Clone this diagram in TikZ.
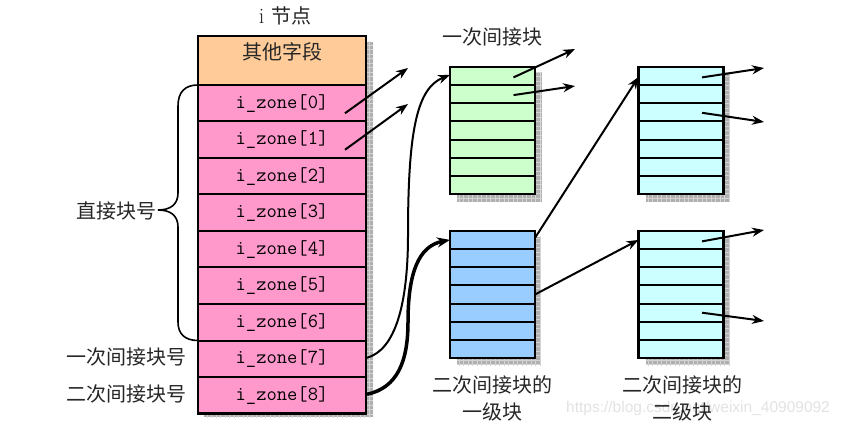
\documentclass[tikz,border=0pt]{standalone}
\usepackage{fontspec}
\newfontfamily\cjk{Noto Sans CJK SC}
\newfontfamily\wmfont{Liberation Sans}
\usetikzlibrary{arrows.meta,calc}
\definecolor{hdrfill}{HTML}{FFCC99}
\definecolor{zonefill}{HTML}{FF99CC}
\definecolor{greenfill}{HTML}{CCFFCC}
\definecolor{bluefill}{HTML}{99CCFF}
\definecolor{cyanfill}{HTML}{CCFFFF}
\definecolor{shadowgray}{HTML}{B0B0B0}
\definecolor{shadowgrid}{HTML}{D4D4D4}
\definecolor{wmgray}{HTML}{E2E2E2}
\tikzset{
  zonerow/.style={draw, line width=2pt, fill=zonefill, minimum width=168pt, minimum height=36.5pt, inner sep=0pt, outer sep=0pt, font=\ttfamily\fontsize{20}{23}\selectfont},
  hdrrow/.style={draw, line width=2pt, fill=hdrfill, minimum width=168pt, minimum height=49pt, inner sep=0pt, outer sep=0pt},
  blockrow/.style={draw, line width=2pt, minimum width=85pt, minimum height=18.2pt, inner sep=0pt, outer sep=0pt},
  cjktext/.style={font=\cjk\fontsize{20}{24}\selectfont, inner sep=0pt, text=black!85},
  ptr/.style={line width=2pt, -{Stealth[length=12pt,width=9pt]}},
  thickptr/.style={line width=3.5pt, -{Stealth[length=13pt,width=10pt]}},
  bracestyle/.style={line width=1.6pt}
}
\begin{document}
\begin{tikzpicture}[x=1pt,y=-1pt]
\useasboundingbox (0,0) rectangle (850,427);
% watermark
\node[anchor=west, text=wmgray, font=\wmfont\fontsize{15.5}{18}\selectfont, inner sep=0pt] (wm) at (566,408) {https://blog.csdn.net/weixin\_40909092};
% shadows
\foreach \ax/\ay/\bx/\by in {204/42/373/417, 457/73/542/202, 457/237/541/365, 646/73/730/202, 646/237/730/365}{
  \begin{scope}
    \clip (\ax,\ay) rectangle (\bx,\by);
    \fill[shadowgray] (\ax,\ay) rectangle (\bx,\by);
    \draw[shadowgrid, line width=0.6pt, step=4.5pt] (\ax-10,\ay-10) grid (\bx+10,\by+10);
  \end{scope}
}
% inode
\node[cjktext] (title) at (285,16) {\rmfamily\fontsize{22}{24}\selectfont i \cjk\fontsize{20}{24}\selectfont 节点};
\node[hdrrow] (hdr) at (282,60.5) {};
\node[cjktext] (hdrtext) at (282,52) {其他字段};
\foreach \k in {0,...,8}{
  \node[zonerow] (z\k) at (282,{103.25+36.5*\k}) {i\_zone[\k]};
}
\draw[line width=2.4pt] (hdr.north west) rectangle (z8.south east);
% blocks
\foreach \i in {1,...,7}{
  \node[blockrow, fill=greenfill] (g\i) at (492.5,{57.7+18.2*\i}) {};
  \node[blockrow, fill=bluefill] (b\i) at (492.5,{221.7+18.2*\i}) {};
  \node[blockrow, fill=cyanfill] (c\i) at (681,{57.7+18.2*\i}) {};
  \node[blockrow, fill=cyanfill] (d\i) at (681,{221.7+18.2*\i}) {};
}
\draw[line width=2.4pt] (g1.north west) rectangle (g7.south east);
\draw[line width=2.4pt] (b1.north west) rectangle (b7.south east);
\draw[line width=2.4pt] (c1.north west) rectangle (c7.south east);
\draw[line width=2.4pt] (d1.north west) rectangle (d7.south east);
% labels
\node[cjktext] (lg) at (492,37) {一次间接块};
\node[cjktext] (lb1) at (492,385) {二次间接块的};
\node[cjktext] (lb2) at (492,412) {一级块};
\node[cjktext] (ld1) at (682,385) {二次间接块的};
\node[cjktext] (ld2) at (682,412) {二级块};
\node[cjktext, anchor=east] (direct) at (157,211) {直接块号};
\node[cjktext, anchor=east] (ind1) at (187,357) {一次间接块号};
\node[cjktext, anchor=east] (ind2) at (187,394) {二次间接块号};
% brace
\coordinate (btip) at (158,210);
\draw[bracestyle] (z0.north west) .. controls (185,85) and (178,92) .. (178,106) -- (178,193)
  .. controls (178,204) and (171,210) .. (btip)
  .. controls (171,210) and (178,216) .. (178,227) -- (178,322)
  .. controls (178,334) and (185,340.5) .. (z6.south west);
% free ends
\coordinate (e0) at (408,68);
\coordinate (e1) at (408,104);
\coordinate (eg1) at (575,49);
\coordinate (eg2) at (575,86);
\coordinate (ec1) at (764,68);
\coordinate (ec3) at (764,122);
\coordinate (ed1) at (764,230);
\coordinate (ed5) at (764,321);
% direct pointers
\draw[ptr] ($(z0.center)+(63,10)$) -- (e0);
\draw[ptr] ($(z1.center)+(63,10)$) -- (e1);
\draw[ptr] ($(g1.center)+(21,1.5)$) -- (eg1);
\draw[ptr] ($(g2.center)+(21,1)$) -- (eg2);
\draw[ptr] ($(c1.center)+(21,1.5)$) -- (ec1);
\draw[ptr] ($(c3.center)+(21,0.5)$) -- (ec3);
\draw[ptr] ($(d1.center)+(21,1.5)$) -- (ed1);
\draw[ptr] ($(d5.center)+(21,0)$) -- (ed5);
% indirect
\draw[ptr] ($(z7.east)+(1,-1)$) .. controls (395,350) and (408,305) .. (408,235)
  .. controls (408,130) and (417,88) .. ($(g1.west)+(0,-1)$);
\draw[thickptr] ($(z8.east)+(1,-1)$) .. controls (397,388) and (408,362) .. (408,322)
  .. controls (408,272) and (419,246) .. ($(b1.west)+(0,0)$);
\draw[ptr] ($(b1.east)+(0,-2)$) -- ($(c1.west)+(0,1)$);
\draw[ptr] (b4.east) -- ($(d1.west)+(0,0)$);
\end{tikzpicture}
\end{document}
